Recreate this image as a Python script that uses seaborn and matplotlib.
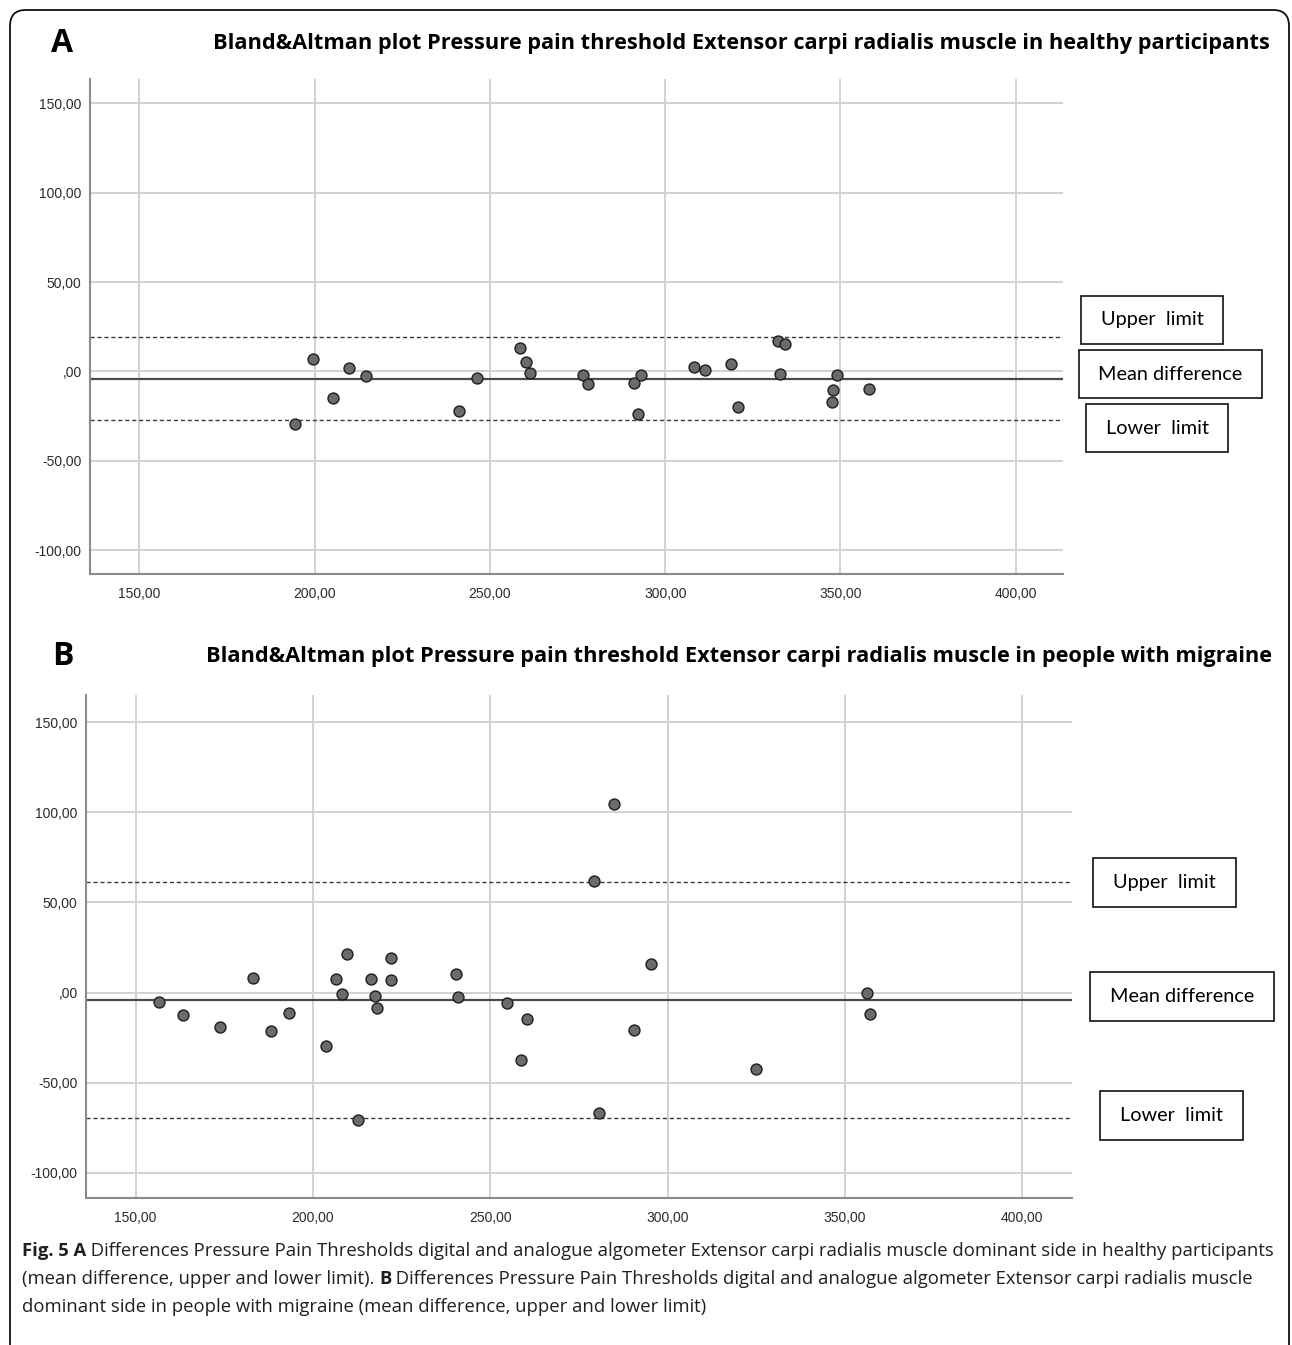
import numpy as np
import pandas as pd
import seaborn as sns
import matplotlib.pyplot as plt
from matplotlib.patches import Rectangle, FancyBboxPatch
from matplotlib import font_manager

W, H = 1292, 1345

# Panel A - healthy participants (mean of both devices, difference)
a_mean = [194.3, 199.6, 205.3, 209.8, 214.7, 241.1, 246.4, 258.6, 260.3, 261.5,
          276.5, 278.1, 291.1, 293.1, 292.2, 308.3, 311.3, 318.8, 320.8, 332.1,
          334.3, 332.8, 349.1, 347.9, 347.5, 358.1]
a_diff = [-29.6, 6.8, -15.0, 1.8, -2.3, -22.0, -3.4, 13.0, 5.1, -1.1,
          -1.9, -6.8, -6.2, -2.0, -24.0, 2.6, 0.8, 4.2, -19.7, 17.1,
          15.4, -1.3, -2.0, -10.5, -17.2, -9.6]
a_upper, a_meandiff, a_lower = 19.0, -4.2, -27.4

# Panel B - people with migraine
b_mean = [156.7, 163.3, 173.8, 183.2, 188.1, 193.2, 203.7, 206.5, 208.2, 209.6,
          216.3, 217.6, 218.0, 222.1, 222.1, 212.6, 240.2, 240.9, 254.8, 260.3,
          258.6, 284.8, 279.2, 295.2, 290.6, 280.6, 324.9, 356.1, 357.0]
b_diff = [-5.5, -12.5, -18.9, 8.1, -21.5, -11.2, -29.4, 7.6, -0.9, 21.5,
          7.6, -1.7, -8.6, 19.1, 7.2, -70.6, 10.1, -2.4, -5.8, -14.7,
          -37.5, 104.6, 62.0, 16.0, -21.0, -66.5, -42.6, 0.0, -11.9]
b_upper, b_meandiff, b_lower = 61.4, -4.2, -69.7

x_ticks = [150, 200, 250, 300, 350, 400]
x_labels = ["150,00", "200,00", "250,00", "300,00", "350,00", "400,00"]
y_ticks = [-100, -50, 0, 50, 100, 150]
y_labels = ["-100,00", "-50,00", ",00", "50,00", "100,00", "150,00"]

titles = ["Bland&Altman plot Pressure pain threshold Extensor carpi radialis muscle in healthy participants",
          "Bland&Altman plot Pressure pain threshold Extensor carpi radialis muscle in people with migraine"]

sns.set_style("white")
installed = {f.name for f in font_manager.fontManager.ttflist}
cap_font = "Liberation Sans Narrow" if "Liberation Sans Narrow" in installed else "Open Sans"
plt.rcParams["font.family"] = ["Liberation Sans", "DejaVu Sans"]

fig = plt.figure(figsize=(W / 100, H / 100), dpi=100)


def fx(px):
    return px / W


def fy(py):
    return 1 - py / H


# rounded frame around the whole figure
frame = FancyBboxPatch((fx(10), fy(1420)), fx(1279), 1410 / H,
                       boxstyle="round,pad=0,rounding_size=0.012",
                       transform=fig.transFigure, fill=False, ec="#111111", lw=1.3)
fig.patches.append(frame)


def panel(box, mean, diff, upper, meandiff, lower, xlim, ylim):
    left, top, right, bottom = box
    ax = fig.add_axes([fx(left), fy(bottom), (right - left) / W, (bottom - top) / H])
    df = pd.DataFrame({"mean": mean, "diff": diff})
    ax.set_xlim(*xlim)
    ax.set_ylim(*ylim)
    ax.set_xticks(x_ticks, x_labels)
    ax.set_yticks(y_ticks, y_labels)
    ax.grid(True, color="#d2d2d2", lw=1.4)
    ax.set_axisbelow(True)
    ax.axhline(upper, color="#3a3a3a", lw=1.0, ls=(0, (3, 2)), zorder=2)
    ax.axhline(lower, color="#3a3a3a", lw=1.0, ls=(0, (3, 2)), zorder=2)
    ax.axhline(meandiff, color="#4a4a4a", lw=1.6, zorder=2)
    sns.scatterplot(data=df, x="mean", y="diff", ax=ax, color="#6b6b6b",
                    edgecolor="#1e1e1e", linewidth=1.0, s=62, zorder=3, legend=False)
    ax.set_xlabel("")
    ax.set_ylabel("")
    for side in ["top", "right"]:
        ax.spines[side].set_visible(False)
    for side in ["left", "bottom"]:
        ax.spines[side].set_color("#8a8a8a")
        ax.spines[side].set_linewidth(1.5)
    ax.tick_params(axis="y", length=4, width=1.2, color="#bdbdbd", pad=2,
                   labelsize=10, labelcolor="#2b2b2b")
    ax.tick_params(axis="x", length=0, pad=9, labelsize=10, labelcolor="#2b2b2b")
    return ax


ax_a = panel((90, 79, 1063, 574), a_mean, a_diff, a_upper, a_meandiff, a_lower,
             (135.9, 413.5), (-113.3, 163.6))
ax_b = panel((86, 695, 1072, 1198), b_mean, b_diff, b_upper, b_meandiff, b_lower,
             (136.0, 414.0), (-113.9, 165.0))

# panel letters and titles
fig.text(fx(62), fy(43), "A", family=["Open Sans", "DejaVu Sans"], fontweight="bold",
         fontsize=23, ha="center", va="center", color="black")
fig.text(fx(1270), fy(43), titles[0], family=["Open Sans", "DejaVu Sans"],
         fontweight="bold", fontsize=15.65, ha="right", va="center", color="black")
fig.text(fx(63), fy(657), "B", family=["Open Sans", "DejaVu Sans"], fontweight="bold",
         fontsize=23, ha="center", va="center", color="black")
fig.text(fx(1272), fy(657), titles[1], family=["Open Sans", "DejaVu Sans"],
         fontweight="bold", fontsize=15.7, ha="right", va="center", color="black")

# boxed labels next to the panels
boxes = [
    ("Upper  limit", 1081, 296, 1223, 344),
    ("Mean difference", 1079, 350, 1262, 398),
    ("Lower  limit", 1086, 404, 1228, 452),
    ("Upper  limit", 1093, 858, 1236, 907),
    ("Mean difference", 1090, 972, 1274, 1021),
    ("Lower  limit", 1100, 1091, 1243, 1140),
]
for label, x0, y0, x1, y1 in boxes:
    fig.patches.append(Rectangle((fx(x0), fy(y1)), (x1 - x0) / W, (y1 - y0) / H,
                                 transform=fig.transFigure, fill=True, fc="white",
                                 ec="#111111", lw=1.2))
    fig.text(fx((x0 + x1) / 2), fy((y0 + y1) / 2), label, family=["Lato", "DejaVu Sans"],
             fontsize=14.3, ha="center", va="center", color="black")

# caption with bold fragments
caption = [
    (1256, [("Fig. 5 A", True), (" Differences Pressure Pain Thresholds digital and analogue algometer "
                                 "Extensor carpi radialis muscle dominant side in healthy participants", False)]),
    (1284, [("(mean difference, upper and lower limit). ", False), ("B", True),
            (" Differences Pressure Pain Thresholds digital and analogue algometer Extensor carpi radialis muscle", False)]),
    (1312, [("dominant side in people with migraine (mean difference, upper and lower limit)", False)]),
]
renderer = fig.canvas.get_renderer()
for base, parts in caption:
    x = fx(22)
    for txt, bold in parts:
        t = fig.text(x, fy(base), txt, family=[cap_font, "DejaVu Sans"],
                     fontweight="bold" if bold else "normal", fontsize=13.3,
                     ha="left", va="baseline", color="#231f20")
        x += t.get_window_extent(renderer).width / W

fig.savefig("out.png", dpi=100)
